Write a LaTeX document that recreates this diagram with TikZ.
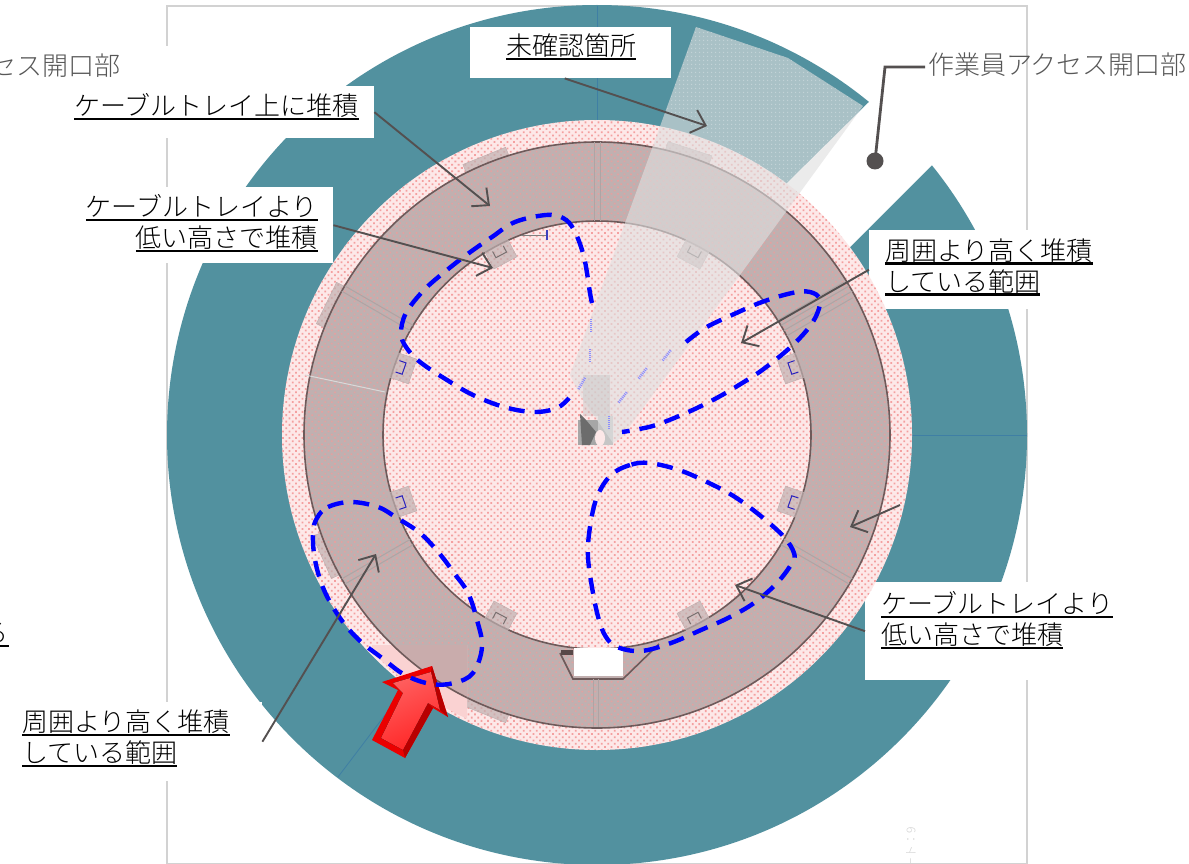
\documentclass[tikz,border=0pt]{standalone}
\usepackage{fontspec}
\setmainfont{Noto Sans CJK JP Light}
\usepackage{xcolor}
\usepackage{tikz}
\usetikzlibrary{arrows.meta,patterns.meta}

\definecolor{tealdisc}{HTML}{52919F}
\definecolor{pinkband}{HTML}{FDE8E8}
\definecolor{pinkdot}{HTML}{F4A0A0}
\definecolor{ringgray}{HTML}{C0B0B0}
\definecolor{ringdot}{HTML}{E4A0A0}
\definecolor{ringline}{HTML}{6E5A5A}
\definecolor{leadgray}{HTML}{545050}
\definecolor{framegray}{HTML}{D2D2D2}
\definecolor{axisblue}{HTML}{3F7FA4}

\newcommand{\ulab}[1]{\setbox0=\hbox{#1}\rlap{\textcolor{black}{\rule[-4.5pt]{\wd0}{2.2pt}}}\box0}

\tikzset{
  whitebox/.style={fill=white,inner sep=0pt,anchor=north west},
  labeltext/.style={inner sep=0pt,font=\fontsize{26}{31}\selectfont,text=black},
  graytext/.style={inner sep=0pt,font=\fontsize{26}{31}\selectfont,text=black!66},
  leadline/.style={draw=leadgray,line width=1.9pt,->},
  bluedash/.style={draw=blue,line width=4.4pt,dash pattern=on 16pt off 10pt},
  spokeline/.style={draw=ringline!55,line width=1pt},
  tabpiece/.style={fill=ringgray,fill opacity=.7,draw=ringgray,line width=.5pt},
  dotfloor/.style={pattern={Dots[distance=4.6pt,radius=1.25pt,angle=45]},pattern color=pinkdot},
  dotring/.style={pattern={Dots[distance=4.6pt,radius=1.1pt,angle=45]},pattern color=ringdot}
}

\begin{document}
\begin{tikzpicture}[x=1pt,y=-1pt,>={Straight Barb[length=13pt,width=24pt]}]
\path[use as bounding box] (0,0) rectangle (1189,864);
\coordinate (hub) at (597,435);

% frame and outer disc
\draw[framegray,line width=2pt] (167,6) rectangle (1027,863.5);
\fill[tealdisc] (hub) circle[radius=430];
\fill[white] (869,102) -- (919,52) -- (982,115) -- (932,165) -- (597,500) -- (532,435) -- cycle;
\draw[axisblue,line width=.8pt] (597,6) -- (597,120);
\draw[axisblue,line width=.8pt] (912,435) -- (1027,435);
\draw[axisblue,line width=.8pt] (338,777) -- (407,686);

% label boxes
\node[whitebox,minimum width=172pt,minimum height=42pt] (accessBox) at (0,46) {};
\node[whitebox,minimum width=374pt,minimum height=52pt] (trayBox) at (0,86) {};
\node[whitebox,minimum width=263pt,minimum height=76pt] (lowLeftBox) at (70,187) {};
\node[whitebox,minimum width=201pt,minimum height=51pt] (unseenBox) at (470,27) {};
\node[whitebox,minimum width=240pt,minimum height=79pt] (highRightBox) at (869,230) {};
\node[whitebox,minimum width=270pt,minimum height=98pt] (lowRightBox) at (865,582) {};
\node[whitebox,minimum width=262pt,minimum height=79pt] (highLeftBox) at (0,702) {};

% floor and ring
\fill[pinkband] (hub) circle[radius=315];
\fill[dotfloor] (hub) circle[radius=315];
\foreach \a in {22,64,114,158,-18}
  \draw[tabpiece,rotate around={\a:(hub)}] (574,134) rectangle (620,150);
\fill[ringgray] (hub) circle[radius=293];
\fill[dotring] (hub) circle[radius=293];
\fill[pinkband] (hub) circle[radius=214];
\fill[dotfloor] (hub) circle[radius=214];
\draw[ringline,line width=1.6pt] (hub) circle[radius=293];
\draw[ringline,line width=1.6pt] (hub) circle[radius=214];
\foreach \a in {0,60,120,-60,-120} {
  \draw[spokeline,rotate around={\a:(hub)}] (594,142) -- (594,221);
  \draw[spokeline,rotate around={\a:(hub)}] (600,142) -- (600,221);
}
\draw[spokeline,rotate around={-60:(hub)}] (606,145) -- (606,221);
\draw[spokeline,rotate around={-60:(hub)}] (588,145) -- (588,221);
\draw[white!70!gray,line width=1pt] (305,375) -- (385,392);

% smooth patch around the red arrow
\begin{scope}
\clip (372,645) rectangle (467,720);
\fill[pinkband!70!pinkdot] (hub) circle[radius=312];
\fill[ringgray!75!ringdot] (hub) circle[radius=293];
\draw[ringline,line width=1.6pt] (hub) circle[radius=293];
\end{scope}

% cable tray tabs
\foreach \a/\c in {28/gray,71/blue,109/blue,152/gray,-28/gray,-71/blue,-109/blue,-152/gray} {
  \draw[tabpiece,rotate around={\a:(hub)}] (584,217) rectangle (610,240);
  \draw[\c!60!ringline,line width=1pt,rotate around={\a:(hub)}] (591,224) -- (591,231) -- (603,231) -- (603,224);
}
\draw[gray,line width=1pt] (521,235) -- (546,235);
\draw[blue!50!gray,line width=1.2pt] (547,230) -- (547,240);

% notch at the bottom of the ring
\fill[white] (574,648) rectangle (623,676);
\draw[ringline,line width=1.6pt] (560,653) -- (573,679) -- (623,679) -- (659,644);
\fill[ringline!80!black] (561,650) rectangle (573,655);
\draw[spokeline] (593,679) -- (593,727);
\draw[spokeline] (598,679) -- (598,727);

% centre column
\fill[gray!70] (578,420) rectangle (598,445);
\fill[gray!45] (598,416) rectangle (613,445);
\fill[gray!85!black] (580,414) -- (586,420) -- (596,432) -- (590,445) -- (582,445) -- cycle;
\fill[pinkband] (600,438) ellipse[x radius=5,y radius=8];

% unconfirmed sector
\fill[gray!25,fill opacity=.62] (696,27) -- (788,58) -- (863,106) -- (622,437) -- (613,443) -- (580,395) -- (570,375) -- cycle;
\fill[pattern={Dots[distance=4pt,radius=.9pt]},pattern color=white,fill opacity=.3] (696,27) -- (788,58) -- (863,106) -- (786,182) -- (666,110) -- cycle;
\fill[gray!45,fill opacity=.45] (583,375) rectangle (610,416);
\foreach \x/\y/\a in {643/373/52,667/355/52,623/397/52,590/355/90,591/325/90,582/383/60,609/422/90} {
  \draw[blue!45,line width=2.6pt,dash pattern=on 1pt off 1pt,rotate around={\a:(\x,\y)}] (\x-7,\y) -- (\x+7,\y);
}

% red arrow
\fill[red!92!black] (432,666) -- (382,682) -- (398,690) -- (372,740) -- (405,758) -- (433,708) -- (448,717) -- cycle;
\fill[red!72!black] (405,758) -- (403,750) -- (428,703) -- (433,708) -- cycle;
\fill[red!72!black] (448,717) -- (440,710) -- (431,672) -- (432,666) -- cycle;
\fill[left color=red!62!white,right color=red!85!white,shading angle=25] (431,672) -- (393,683) -- (403,693) -- (381,738) -- (403,750) -- (428,703) -- (440,710) -- cycle;

% blue outlines
\draw[bluedash] plot[smooth,tension=.6] coordinates {(592,303) (590,293) (584,257) (574,230) (563,218) (546,215) (515,222) (492,237) (469,253) (447,270) (424,290) (406,313) (401,333) (406,347) (420,362) (447,380) (473,395) (504,407) (534,412) (557,408) (569,398)};
\draw[bluedash] plot[smooth,tension=.6] coordinates {(686,342) (705,328) (732,315) (762,302) (792,293) (810,292) (820,300) (814,320) (795,343) (765,368) (739,385) (713,400) (686,413) (656,425) (634,430) (622,432)};
\draw[bluedash] plot[smooth cycle,tension=.6] coordinates {(649,463) (630,465) (611,475) (597,497) (590,527) (588,557) (593,593) (599,620) (606,637) (617,647) (641,651) (671,643) (701,630) (728,618) (754,603) (777,583) (792,563) (794,553) (784,537) (762,517) (735,497) (709,483) (679,470)};
\draw[bluedash] plot[smooth cycle,tension=.6] coordinates {(317,518) (328,507) (351,502) (378,507) (397,518) (420,533) (439,553) (454,573) (468,593) (477,620) (482,647) (473,673) (454,683) (431,684) (405,675) (382,658) (359,640) (340,618) (324,590) (315,560) (313,533)};

% labels
\node[graytext,anchor=west] (accessR) at (928,65) {作業員アクセス開口部};
\node[graytext,anchor=east] (accessL) at (121,66) {セス開口部};
\node[labeltext,anchor=east] (cutLabel) at (9,635) {\ulab{る}};
\node[labeltext,anchor=west] (trayLabel) at (74,106.5) {\ulab{ケーブルトレイ上に堆積}};
\node[labeltext,anchor=east,align=right] (lowLeftLabel) at (318,223.5) {\ulab{ケーブルトレイより}\\\ulab{低い高さで堆積}};
\node[labeltext,anchor=west] (unseenLabel) at (506,47) {\ulab{未確認箇所}};
\node[labeltext,anchor=west,align=left] (highRightLabel) at (885,267) {\ulab{周囲より高く堆積}\\\ulab{している範囲}};
\node[labeltext,anchor=west,align=left] (lowRightLabel) at (881,620) {\ulab{ケーブルトレイより}\\\ulab{低い高さで堆積}};
\node[labeltext,anchor=west,align=left] (highLeftLabel) at (22,738.5) {\ulab{周囲より高く堆積}\\\ulab{している範囲}};
\node[rotate=90,inner sep=0pt,font=\fontsize{12}{12}\selectfont,text=black!18] (sheetMark) at (911,848) {ート：9};

% leader lines
\coordinate (unseenHead) at (707,126);
\coordinate (trayHead) at (490,206);
\coordinate (lowLeftHead) at (493,268);
\coordinate (highRightHead) at (741,343);
\coordinate (highLeftHead) at (376,554);
\coordinate (lowRightHead) at (735,585);
\coordinate (ringTail) at (900,505);
\coordinate (ringHead) at (850,527);
\coordinate (hatchBend) at (885,67);
\coordinate (hatchDot) at (875,161);
\draw[leadline] ([xshift=-6pt]unseenBox.south) -- (unseenHead);
\draw[leadline] (trayBox.east) -- (trayHead);
\draw[leadline] (lowLeftBox.east) -- (lowLeftHead);
\draw[leadline] (highRightBox.west) -- (highRightHead);
\draw[leadline] (highLeftBox.east) -- (highLeftHead);
\draw[leadline] (lowRightBox.west) -- (lowRightHead);
\draw[leadline] (ringTail) -- (ringHead);
\draw[leadgray,line width=2.8pt] ([xshift=-3pt,yshift=-2pt]accessR.west) -- (hatchBend) -- (hatchDot);
\fill[leadgray] (hatchDot) circle[radius=8.5];
\end{tikzpicture}
\end{document}
